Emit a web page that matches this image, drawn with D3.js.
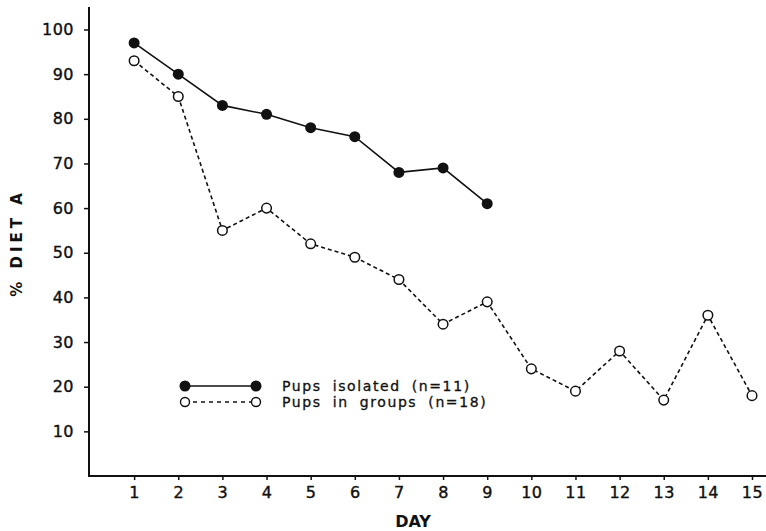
<html>
<head>
<script src="https://d3js.org/d3.v7.min.js"></script>
<style>
  body { margin: 0; background: #fff; }
  svg text { font-family: "DejaVu Sans", sans-serif; fill: #111; }
</style>
</head>
<body>
<script>
var days = [1, 2, 3, 4, 5, 6, 7, 8, 9, 10, 11, 12, 13, 14, 15];
var isolated = [97, 90, 83, 81, 78, 76, 68, 69, 61];
var groups = [93, 85, 55, 60, 52, 49, 44, 34, 39, 24, 19, 28, 17, 36, 18];
var yTicks = [10, 20, 30, 40, 50, 60, 70, 80, 90, 100];
var legendLabels = ["Pups isolated (n=11)", "Pups in groups (n=18)"];

var svg = d3.select("body").append("svg").attr("width", 766).attr("height", 531);

var x = d3.scaleLinear().domain([0, 15]).range([90, 752]);
var y = d3.scaleLinear().domain([0, 100]).range([476, 29.5]);

// axes
var xAxis = svg.append("g").attr("transform", "translate(0,476)")
    .call(d3.axisBottom(x).tickValues(days).tickSize(4).tickPadding(7));
xAxis.select(".domain").attr("d", "M89,0H766");
var yAxis = svg.append("g").attr("transform", "translate(89,0)")
    .call(d3.axisLeft(y).tickValues(yTicks).tickSize(5).tickPadding(10));
yAxis.select(".domain").attr("d", "M0,7V477");

svg.selectAll(".domain").attr("stroke", "#111").attr("stroke-width", 2);
svg.selectAll(".tick line").attr("stroke", "#111").attr("stroke-width", 1.5);
svg.selectAll(".tick text").attr("font-size", 16).attr("letter-spacing", 0.5)
    .attr("font-family", "DejaVu Sans, sans-serif").attr("fill", "#111")
    .attr("stroke", "#111").attr("stroke-width", 0.4);

svg.append("text").attr("x", 413).attr("y", 527).attr("text-anchor", "middle")
    .attr("font-size", 16).attr("font-weight", "bold").text("DAY");
svg.append("text").attr("transform", "translate(22,243) rotate(-90)")
    .attr("text-anchor", "middle").attr("font-size", 15).attr("font-weight", "bold")
    .attr("letter-spacing", 4).text("% DIET A");

var line = d3.line().x(function (d) { return x(d[0]); }).y(function (d) { return y(d[1]); });
var isoPts = isolated.map(function (v, i) { return [days[i], v]; });
var grpPts = groups.map(function (v, i) { return [days[i], v]; });

svg.append("path").datum(grpPts).attr("d", line).attr("fill", "none")
    .attr("stroke", "#111").attr("stroke-width", 1.6).attr("stroke-dasharray", "4,3");
svg.append("path").datum(isoPts).attr("d", line).attr("fill", "none")
    .attr("stroke", "#111").attr("stroke-width", 1.6);

svg.selectAll(".grp").data(grpPts).enter().append("circle")
    .attr("cx", function (d) { return x(d[0]); }).attr("cy", function (d) { return y(d[1]); })
    .attr("r", 4.8).attr("fill", "#fff").attr("stroke", "#111").attr("stroke-width", 1.5);
svg.selectAll(".iso").data(isoPts).enter().append("circle")
    .attr("cx", function (d) { return x(d[0]); }).attr("cy", function (d) { return y(d[1]); })
    .attr("r", 5.5).attr("fill", "#111");

// legend
var lg = svg.append("g");
lg.append("line").attr("x1", 185).attr("x2", 256).attr("y1", 386).attr("y2", 386)
    .attr("stroke", "#111").attr("stroke-width", 1.6);
lg.selectAll(".lf").data([185, 256]).enter().append("circle")
    .attr("cx", function (d) { return d; }).attr("cy", 386).attr("r", 5.5).attr("fill", "#111");
lg.append("line").attr("x1", 185).attr("x2", 256).attr("y1", 402).attr("y2", 402)
    .attr("stroke", "#111").attr("stroke-width", 1.4).attr("stroke-dasharray", "4,4");
lg.selectAll(".lo").data([185, 256]).enter().append("circle")
    .attr("cx", function (d) { return d; }).attr("cy", 402).attr("r", 4.5)
    .attr("fill", "#fff").attr("stroke", "#111").attr("stroke-width", 1.4);
lg.selectAll(".lt").data(legendLabels).enter().append("text")
    .attr("x", 282).attr("y", function (d, i) { return 390.5 + i * 16.5; })
    .attr("font-size", 14).attr("letter-spacing", 1.6).attr("word-spacing", 5)
    .attr("stroke", "#111").attr("stroke-width", 0.3)
    .text(function (d) { return d; });
</script>
</body>
</html>
